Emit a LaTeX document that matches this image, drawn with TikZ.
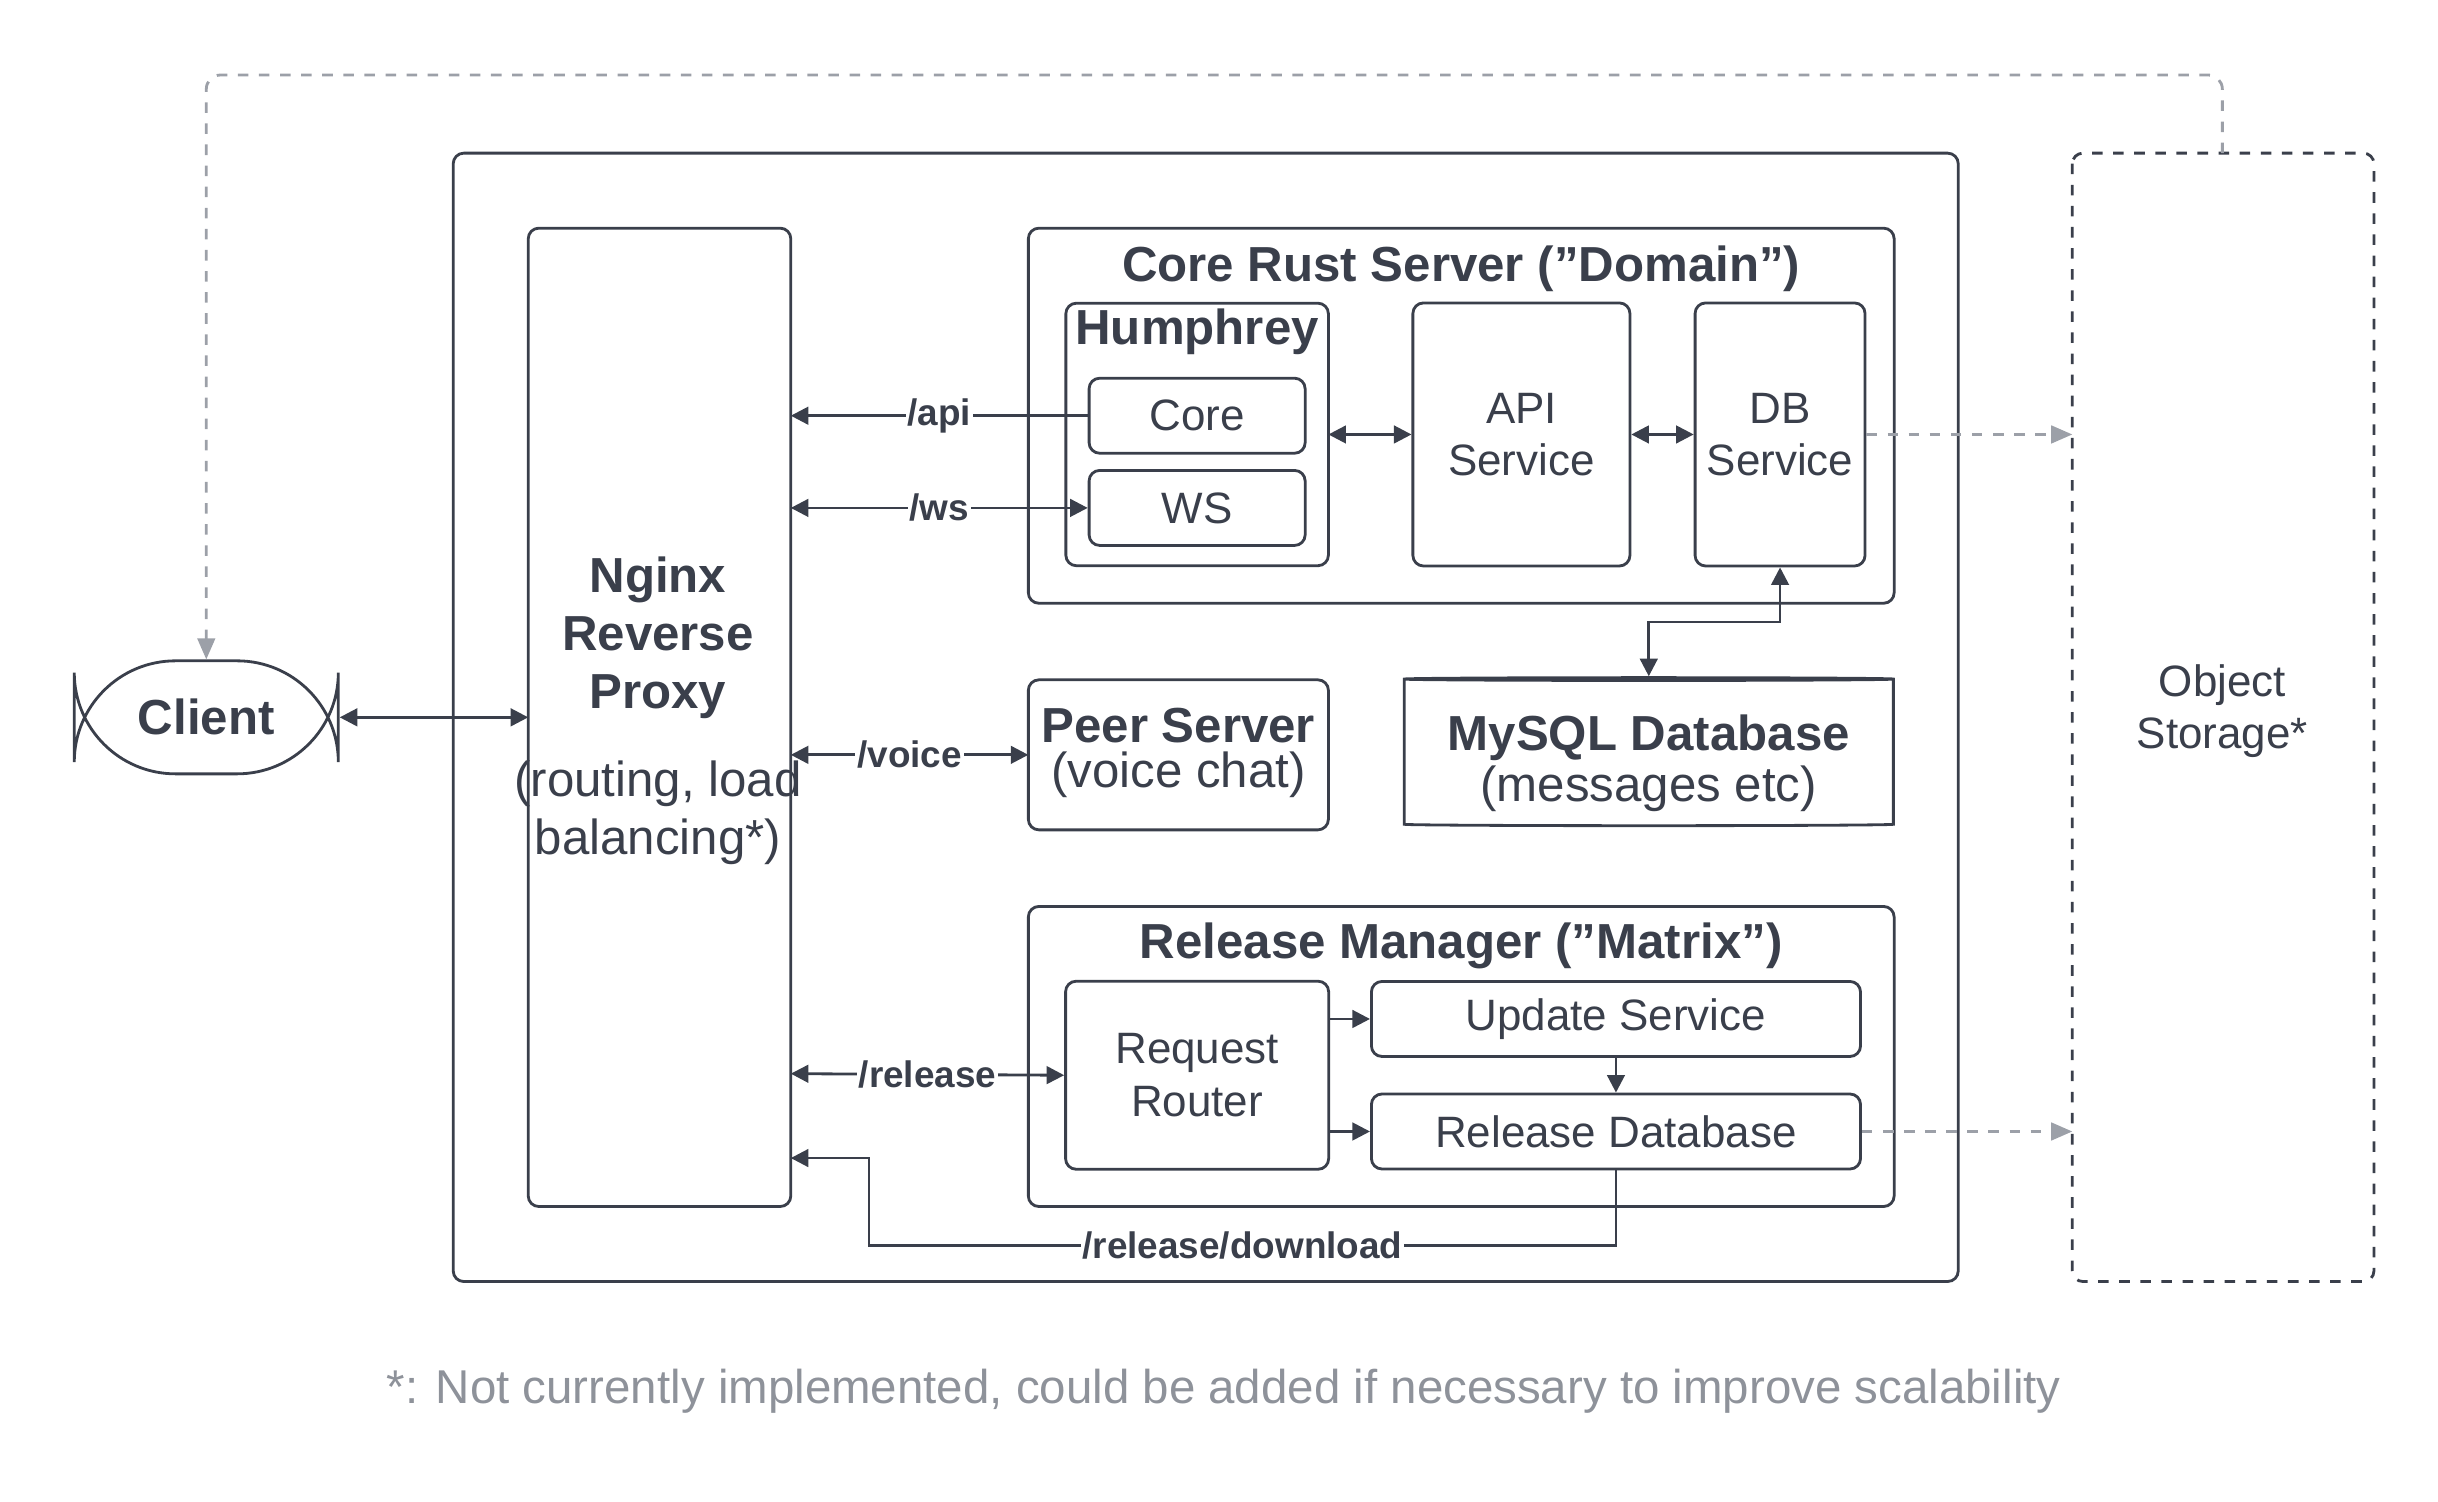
\documentclass[tikz,border=0pt]{standalone}
\usepackage{fontspec}
\setmainfont{Liberation Sans}
\usetikzlibrary{arrows.meta, positioning, shapes.geometric, calc}
\definecolor{ink}{HTML}{3A3F4B}
\definecolor{dashgray}{HTML}{9CA0A8}
\definecolor{notegray}{HTML}{8E929A}

\begin{document}
\begin{tikzpicture}[
  x=0.015628cm, y=-0.015628cm,
  box/.style={draw=ink, line width=0.8pt, rounded corners=3pt},
  lbl/.style={text=ink, align=center, font=\fontsize{12.5}{15}\selectfont},
  title/.style={text=ink, align=center, font=\fontsize{12.5}{15}\selectfont\bfseries},
  link/.style={draw=ink, line width=0.8pt, -{Triangle[length=5pt,width=5pt]}},
  dlink/.style={link, {Triangle[length=5pt,width=5pt]}-{Triangle[length=5pt,width=5pt]}},
  route/.style={fill=white, inner sep=0.5pt, text=ink, font=\fontsize{10.5}{12}\selectfont\bfseries},
  storelink/.style={draw=dashgray, line width=0.8pt, dashed, -{Triangle[length=6pt,width=5pt]}}
]
  \useasboundingbox (0,0) rectangle (1560,961);

  % Outer frame and storage
  \draw[box] (290,98) rectangle (1253,820);
  \draw[box, dashed] (1326,98) rectangle (1519,820);
  \node[lbl] (storage) at (1422,455) {Object\\Storage*};
  \coordinate (storagetop) at (1422,98);

  % Client
  \node[draw=ink, line width=0.8pt, rounded corners=36\pgflinewidth, minimum width=2.64cm, minimum height=1.13cm, font=\fontsize{14}{16}\selectfont\bfseries, text=ink] (client) at (132,459) {Client};

  % Nginx
  \draw[box] (338,146) rectangle (506,772);
  \node[title, font=\fontsize{14}{16.5}\selectfont\bfseries] (nginx) at (421,408) {Nginx\\Reverse\\Proxy};
  \node[lbl, font=\fontsize{14}{16.5}\selectfont] at (421,520) {(routing, load\\balancing*)};

  % Core Rust Server
  \draw[box] (658,146) rectangle (1212,386);
  \node[title, font=\fontsize{14}{16}\selectfont\bfseries] at (935,172) {Core Rust Server ("Domain")};
  \draw[box] (682,194) rectangle (850,362);
  \node[title, font=\fontsize{14}{16}\selectfont\bfseries] at (766,212) {Humphrey};
  \node[box, lbl, minimum width=2.16cm, minimum height=0.75cm] (core) at (766,266) {Core};
  \node[box, lbl, minimum width=2.16cm, minimum height=0.75cm] (ws) at (766,325) {WS};
  \node[box, lbl, minimum width=2.17cm, minimum height=2.63cm] (api) at (973.5,278) {API\\Service};
  \node[box, lbl, minimum width=1.5cm, minimum height=2.63cm] (db) at (1139,278) {DB\\Service};

  % MySQL
  \node[cylinder, shape border rotate=90, aspect=0.12, draw=ink, line width=0.8pt, minimum width=4.89cm, minimum height=1.48cm, lbl] (mysql) at (1055,482) {};
  \node[title, font=\fontsize{14}{16}\selectfont\bfseries] at (1055,472) {MySQL Database};
  \node[lbl, font=\fontsize{14}{16}\selectfont] at (1055,505) {(messages etc)};

  % Peer Server
  \draw[box] (658,435) rectangle (850,531);
  \node[title, font=\fontsize{14}{16}\selectfont\bfseries] (peer) at (754,464) {Peer Server};
  \node[lbl, font=\fontsize{14}{16}\selectfont] at (754,496) {(voice chat)};

  % Release Manager
  \draw[box] (658,580) rectangle (1212,772);
  \node[title, font=\fontsize{14}{16}\selectfont\bfseries] at (935,605) {Release Manager ("Matrix")};
  \node[box, lbl, minimum width=2.63cm, minimum height=1.88cm] (router) at (766,688) {Request\\Router};
  \node[box, lbl, minimum width=4.89cm, minimum height=0.75cm] (update) at (1034,652) {Update Service};
  \node[box, lbl, minimum width=4.89cm, minimum height=0.75cm] (reldb) at (1034,724) {Release Database};

  % Connectors
  \draw[dlink] (client.east) -- (338,459);
  \draw[link] (core.west) -- node[route] {/api} (506,266);
  \draw[dlink] (506,325) -- node[route] {/ws} (ws.west);
  \draw[dlink] (850,278) -- (api.west);
  \draw[dlink] (api.east) -- (db.west);
  \draw[dlink] (db.south) -- (1139,398) -- (1055,398) -- (mysql.north);
  \draw[dlink] (506,483) -- node[route] {/voice} (658,483);
  \draw[dlink] (506,687) -- node[route] {/release} (router.west);
  \draw[link] (850,652) -- (update.west);
  \draw[link] (850,724) -- (reldb.west);
  \draw[link] (update.south) -- (reldb.north);
  \draw[link] (reldb.south) -- (1034,797) -- node[route] {/release/download} (556,797) -- (556,741) -- (506,741);
  \draw[storelink] (db.east |- 0,278) -- (1326,278);
  \draw[storelink] (reldb.east) -- (1326,724);
  \draw[storelink, rounded corners=4pt] (storagetop) -- (1422,48) -- (132,48) -- (client.north);

  % Footnote
  \node[text=notegray, font=\fontsize{13.5}{16}\selectfont] (note) at (783,890) {*: Not currently implemented, could be added if necessary to improve scalability};
\end{tikzpicture}
\end{document}
